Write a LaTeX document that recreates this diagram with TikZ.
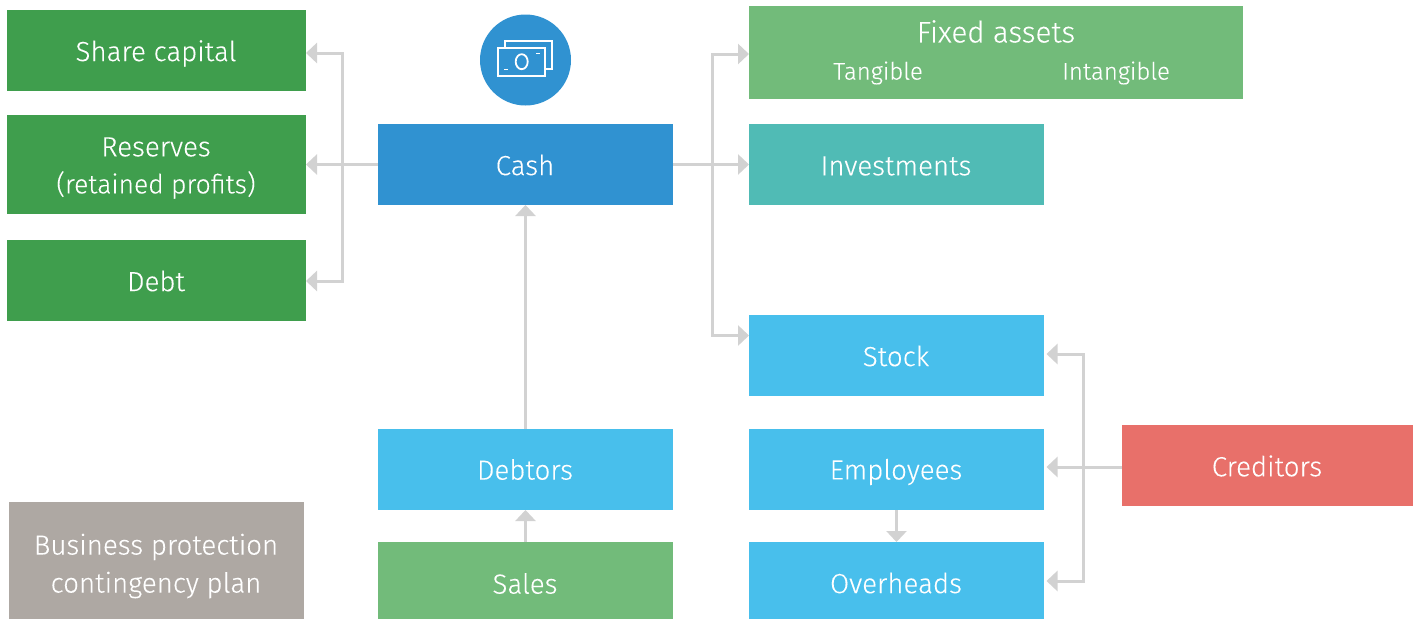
\documentclass[tikz,border=0pt]{standalone}
\usepackage{fontspec}
\setmainfont{Fira Sans}[UprightFont=* Light,UprightFeatures={FakeBold=0.12}]
\usetikzlibrary{arrows.meta}
\definecolor{dgreen}{HTML}{3F9E4D}
\definecolor{lgreen}{HTML}{72BB7A}
\definecolor{cashblue}{HTML}{3092D1}
\definecolor{tealc}{HTML}{50BBB5}
\definecolor{skyc}{HTML}{48BFEC}
\definecolor{redc}{HTML}{E8706A}
\definecolor{greyc}{HTML}{AEA8A3}
\definecolor{linec}{HTML}{D2D2D2}
\tikzset{
  x=1pt,y=-1pt,
  lab/.style={inner sep=0pt,text=white,font=\fontsize{27.7}{37}\selectfont},
  sublab/.style={inner sep=0pt,text=white,font=\fontsize{24}{30}\selectfont},
  conn/.style={draw=linec,line width=3pt},
  arr/.style={conn,-{Triangle[length=11pt,width=20pt]}},
  icon/.style={draw=white,line width=1.8pt}
}
\newcommand{\boxnode}[6]{% name, x1, y1, x2, y2, colour
  \fill[#6] (#2,#3) rectangle (#4,#5);
  \coordinate (#1-w) at (#2,{(#3+#5)/2});
  \coordinate (#1-e) at (#4,{(#3+#5)/2});
  \coordinate (#1-n) at ({(#2+#4)/2},#3);
  \coordinate (#1-s) at ({(#2+#4)/2},#5);
}
\begin{document}
\begin{tikzpicture}
\useasboundingbox (0,0) rectangle (1419,619);
\boxnode{share}{7}{10}{306}{91}{dgreen}
\boxnode{reserves}{7}{115}{306}{214}{dgreen}
\boxnode{debt}{7}{240}{306}{321}{dgreen}
\boxnode{cash}{378}{124}{673}{205}{cashblue}
\boxnode{fixed}{749}{6}{1243}{99}{lgreen}
\boxnode{invest}{749}{124}{1044}{205}{tealc}
\boxnode{stock}{749}{315}{1044}{396}{skyc}
\boxnode{employees}{749}{429}{1044}{510}{skyc}
\boxnode{overheads}{749}{542}{1044}{619}{skyc}
\boxnode{debtors}{378}{429}{673}{510}{skyc}
\boxnode{sales}{378}{542}{673}{619}{lgreen}
\boxnode{creditors}{1122}{425}{1413}{506}{redc}
\boxnode{bpcp}{9}{502}{304}{619}{greyc}

\node[lab] (tshare) at (156,53.5) {Share capital};
\node[lab] (treserves) at (156,147) {Reserves};
\node[sublab,font=\fontsize{26.5}{30}\selectfont] (tretained) at (156,185) {(retained profits)};
\node[lab] (tdebt) at (156,281) {Debt};
\node[lab] (tcash) at (525,165) {Cash};
\node[lab,font=\fontsize{29.6}{37}\selectfont] (tfixed) at (996,31.5) {Fixed assets};
\node[sublab] (ttang) at (878,73) {Tangible};
\node[sublab] (tintang) at (1116,73) {Intangible};
\node[lab] (tinvest) at (896,166) {Investments};
\node[lab] (tstock) at (896,356) {Stock};
\node[lab] (temployees) at (896,472) {Employees};
\node[lab] (toverheads) at (896,583) {Overheads};
\node[lab] (tdebtors) at (525,469.5) {Debtors};
\node[lab] (tsales) at (525,583.5) {Sales};
\node[lab] (tcreditors) at (1267,466) {Creditors};
\node[lab] (tbp1) at (156,547) {Business protection};
\node[lab] (tbp2) at (156,585) {contingency plan};

% junctions
\coordinate (jl) at (342.5,165);
\coordinate (jlt) at (342.5,53);
\coordinate (jlb) at (342.5,281);
\coordinate (jr) at (712,165);
\coordinate (jrt) at (712,54);
\coordinate (jrb) at (712,335.5);
\coordinate (jc) at (1083.5,467);
\coordinate (jct) at (1083.5,354);
\coordinate (jcb) at (1083.5,581);
\coordinate (tipshare) at (306,53);
\coordinate (tipdebt) at (306,281);
\coordinate (tipfixed) at (749,54);
\coordinate (tipstock) at (749,335.5);
\coordinate (tipcs) at (1046.5,354);
\coordinate (tipce) at (1046.5,467);
\coordinate (tipco) at (1046.5,581);

\draw[arr] (cash-w) -- (reserves-e);
\draw[arr] (jl) -- (jlt) -- (tipshare);
\draw[arr] (jl) -- (jlb) -- (tipdebt);
\draw[arr] (cash-e) -- (invest-w);
\draw[arr] (jr) -- (jrt) -- (tipfixed);
\draw[arr] (jr) -- (jrb) -- (tipstock);
\draw[arr] (debtors-n) -- (cash-s);
\draw[arr] (sales-n) -- (debtors-s);
\draw[arr] (employees-s) -- (overheads-n);
\draw[arr] (creditors-w |- jc) -- (tipce);
\draw[arr] (jc) -- (jct) -- (tipcs);
\draw[arr] (jc) -- (jcb) -- (tipco);

% icon
\fill[cashblue] (525.5,60) circle (45.5);
\draw[icon] (498,48) rectangle (545,76);
\draw[icon] (505,48) -- (505,41) -- (552,41) -- (552,69) -- (545,69);
\draw[icon] (521.7,61.7) ellipse (6 and 7.5);
\draw[icon] (536,53.5) -- (540,53.5);
\draw[icon] (504,69.5) -- (508,69.5);
\end{tikzpicture}
\end{document}
